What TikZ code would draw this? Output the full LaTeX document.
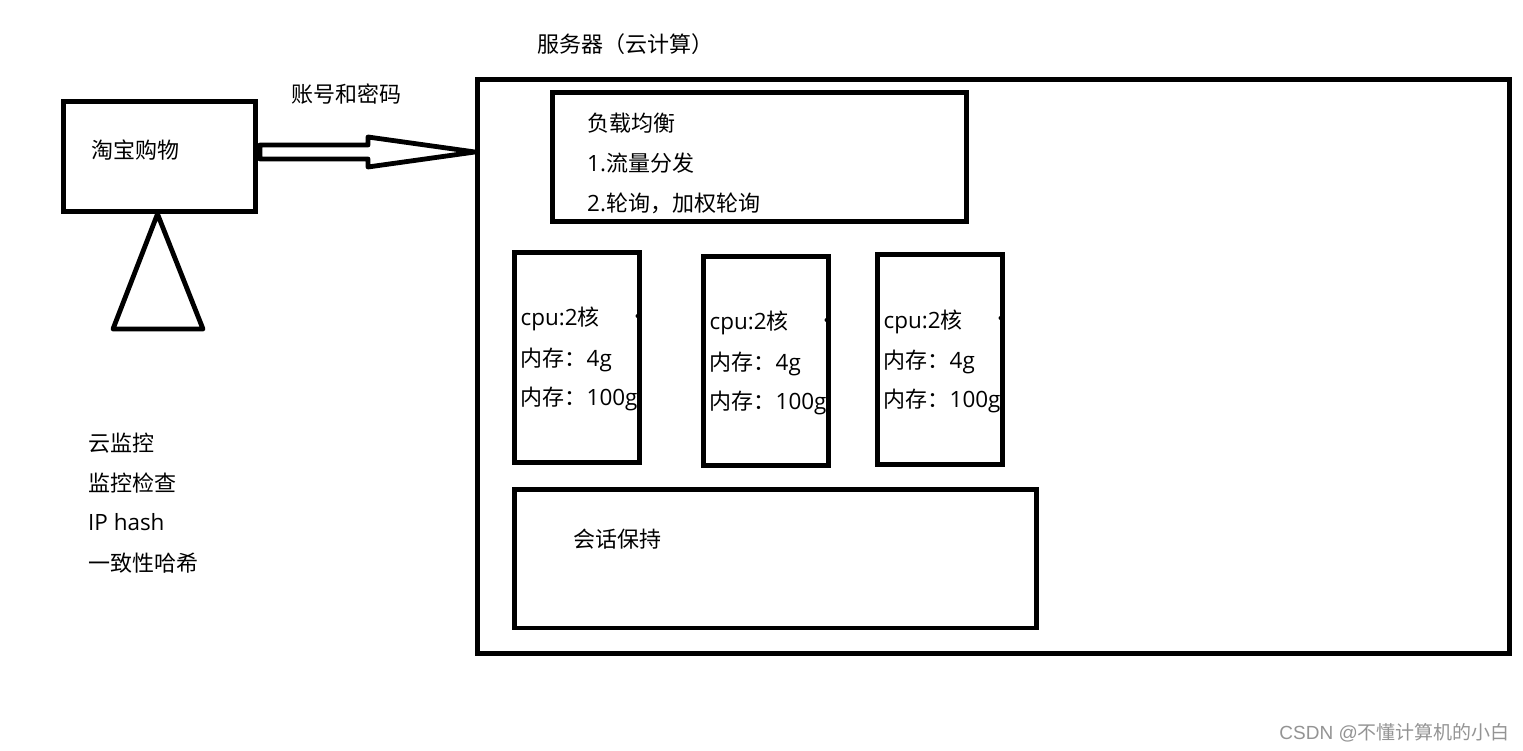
\documentclass[tikz,border=0pt]{standalone}
\usepackage{fontspec}
\setmainfont{Noto Sans CJK SC}
\newfontfamily\lat[Scale=1.02]{Open Sans}
\newfontfamily\wlat{Liberation Sans}
\tikzset{
  px/.style={x=1pt,y=-1pt},
  box/.style={draw=black,line width=4.8pt,fill=white,inner sep=0pt,outer sep=0pt,anchor=north west,xshift=.3pt,yshift=-.5pt},
  lab/.style={anchor=base west,inner sep=0pt,font=\fontsize{22}{26}\selectfont,text=black},
  shape line/.style={draw=black,line width=4.8pt,line join=round,fill=white},
  tick/.style={circle,fill=black,inner sep=0pt,minimum size=4pt},
  mark text/.style={anchor=base east,inner sep=0pt,font=\fontsize{19}{23}\selectfont,text=black!42}
}
\newcommand{\cpubox}[4]{% name, x1, y1, y2
  \node[box,minimum width=125pt,minimum height=#4pt-#3pt-1pt] (#1) at (#2,#3) {};
  \node[tick] (#1dot) at (#2+123.5,#3+64) {};
  \node[lab] (#1a) at (#2+6.5,#3+74) {\lat cpu:2\rmfamily 核};
  \node[lab] (#1b) at (#2+6.5,#3+114) {内存：\lat 4g};
  \node[lab] (#1c) at (#2+6.5,#3+153) {内存：\lat 100g};
}
\begin{document}
\begin{tikzpicture}[px]
\useasboundingbox (0,0) rectangle (1523,751);
\fill[white] (0,0) rectangle (1523,751);

% client
\node[box,minimum width=192pt,minimum height=110pt] (shop) at (63,101) {};
\node[lab] (shoplabel) at (91,158.5) {淘宝购物};
\coordinate (apex) at (157.5,214);
\coordinate (baseL) at (113,329);
\coordinate (baseR) at (203,329);
\draw[line width=4.8pt,line join=round,line cap=round] (apex) -- (baseR) -- (baseL) -- cycle;

% server
\node[box,minimum width=1032pt,minimum height=574pt] (server) at (477,79) {};
\node[lab] (servertitle) at (537,52.5) {服务器（云计算）};

% arrow
\node[lab] (arrowlabel) at (291,103) {账号和密码};
\coordinate (tip) at (475,152);
\coordinate (a1) at (260,145);
\coordinate (a2) at (368,145);
\coordinate (a3) at (368,137);
\coordinate (a4) at (368,167);
\coordinate (a5) at (368,159);
\coordinate (a6) at (260,159);
\draw[shape line] (a1) -- (a2) -- (a3) -- (tip) -- (a4) -- (a5) -- (a6) -- cycle;

% load balancer
\node[box,minimum width=414pt,minimum height=129pt] (lb) at (552,92) {};
\node[lab] (lb1) at (587,132) {负载均衡};
\node[lab] (lb2) at (587,172) {\lat 1.\rmfamily 流量分发};
\node[lab] (lb3) at (587,212) {\lat 2.\rmfamily 轮询，加权轮询};

% cpu boxes
\cpubox{cpuA}{514}{252}{463}
\cpubox{cpuB}{703}{256}{466}
\cpubox{cpuC}{877}{254}{465}

% session
\node[box,minimum width=522pt,minimum height=138.5pt] (session) at (514,489) {};
\node[lab] (sessionlabel) at (573,547) {会话保持};

% monitoring list
\node[lab] (m1) at (88,451) {云监控};
\node[lab] (m2) at (88,491) {监控检查};
\node[lab] (m3) at (88,530) {\lat IP hash};
\node[lab] (m4) at (88,571) {一致性哈希};

% watermark
\node[mark text] (wm) at (1510,739) {\wlat CSDN @\rmfamily 不懂计算机的小白};
\end{tikzpicture}
\end{document}
